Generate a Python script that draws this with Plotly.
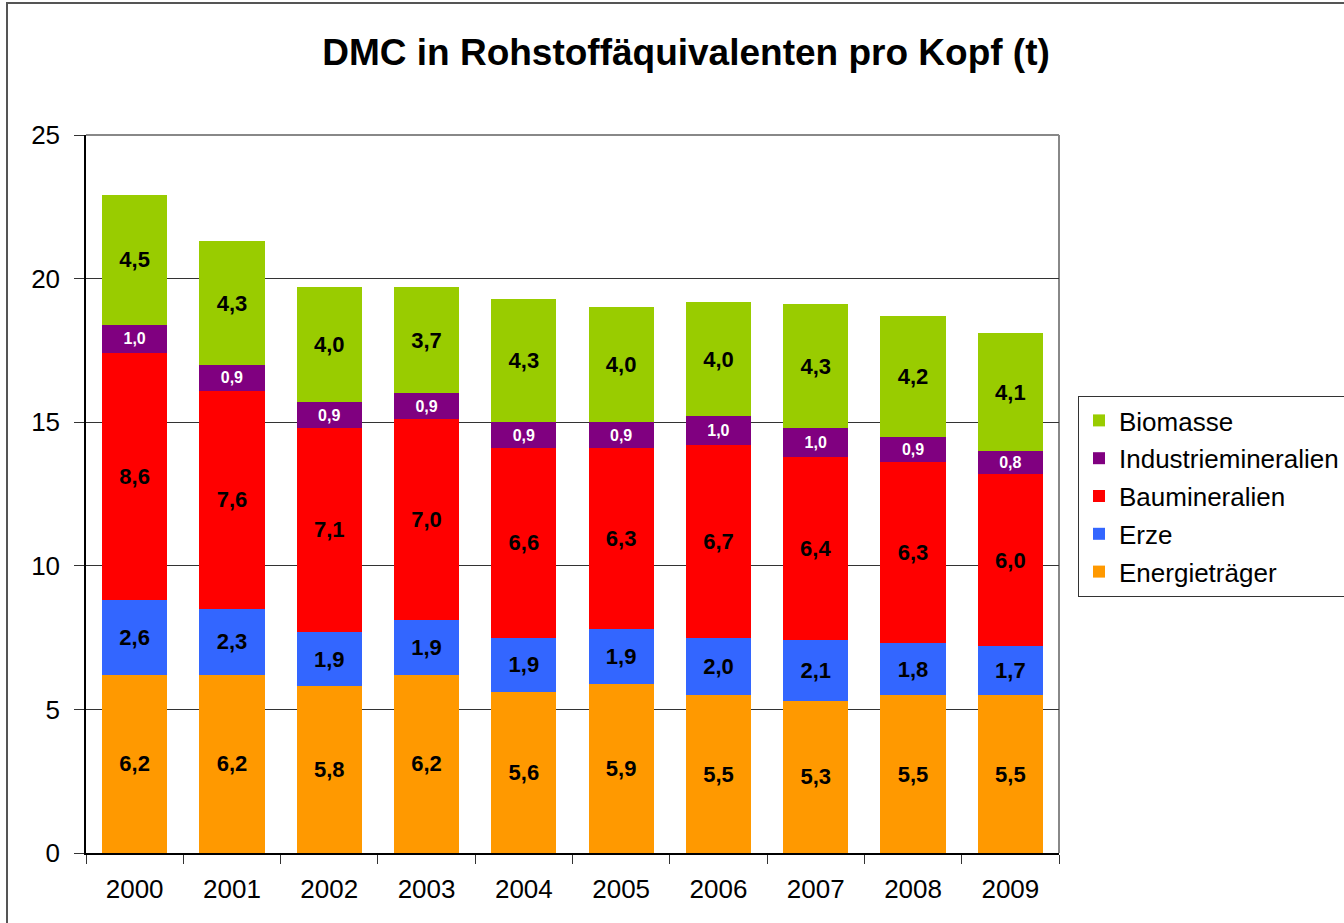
import plotly.graph_objects as go

years = ["2000", "2001", "2002", "2003", "2004", "2005", "2006", "2007", "2008", "2009"]
energietraeger = [6.2, 6.2, 5.8, 6.2, 5.6, 5.9, 5.5, 5.3, 5.5, 5.5]
erze = [2.6, 2.3, 1.9, 1.9, 1.9, 1.9, 2.0, 2.1, 1.8, 1.7]
baumineralien = [8.6, 7.6, 7.1, 7.0, 6.6, 6.3, 6.7, 6.4, 6.3, 6.0]
industriemineralien = [1.0, 0.9, 0.9, 0.9, 0.9, 0.9, 1.0, 1.0, 0.9, 0.8]
biomasse = [4.5, 4.3, 4.0, 3.7, 4.3, 4.0, 4.0, 4.3, 4.2, 4.1]
y_ticks = [0, 5, 10, 15, 20, 25]

FONT = "Liberation Sans, Arial, sans-serif"

series = [
    ("Energieträger", energietraeger, "#FF9900", "black", 22, 5),
    ("Erze", erze, "#3366FF", "black", 22, 4),
    ("Baumineralien", baumineralien, "#FF0000", "black", 22, 3),
    ("Industriemineralien", industriemineralien, "#800080", "white", 16, 2),
    ("Biomasse", biomasse, "#99CC00", "black", 22, 1),
]

fig = go.Figure()
for name, vals, color, tcol, tsize, rank in series:
    fig.add_trace(go.Bar(
        x=years, y=vals, name=name, legendgroup=name, legendrank=rank,
        marker=dict(color=color, line=dict(width=0)),
        text=[f"{v:.1f}".replace(".", ",") for v in vals],
        textposition="inside", insidetextanchor="middle", textangle=0,
        constraintext="none",
        textfont=dict(color=tcol, size=tsize, family=FONT, weight="bold"),
        hoverinfo="skip",
    ))

fig.update_layout(
    width=1344, height=923,
    margin=dict(l=86, r=285, t=135, b=70, autoexpand=False),
    barmode="stack", bargap=0.33,
    plot_bgcolor="white", paper_bgcolor="white",
    font=dict(family=FONT, color="black"),
    title=dict(text="<b>DMC in Rohstoffäquivalenten pro Kopf (t)</b>",
               font=dict(size=37, family=FONT, color="black"),
               x=686 / 1344, xref="container", xanchor="center",
               y=1 - 52 / 923, yref="container", yanchor="middle"),
    legend=dict(x=(1078 - 86) / 973, xanchor="left", y=(853 - 396) / 718, yanchor="top",
                traceorder="grouped", tracegroupgap=1,
                bordercolor="#333333", borderwidth=1, bgcolor="white",
                font=dict(size=26, family=FONT, color="black")),
    showlegend=True,
)
fig.update_xaxes(
    showline=True, linecolor="black", linewidth=1.5,
    ticks="outside", ticklen=9, tickcolor="#333333", tickson="boundaries",
    tickfont=dict(size=26, family=FONT, color="black"),
    ticklabelstandoff=12,
    showgrid=False,
)
fig.update_yaxes(
    range=[0, 25], tickvals=y_ticks,
    showline=True, linecolor="black", linewidth=1.5,
    ticks="outside", ticklen=10, tickcolor="#333333",
    tickfont=dict(size=26, family=FONT, color="black"),
    ticklabelstandoff=9,
    showgrid=True, gridcolor="#333333", gridwidth=1,
    zeroline=False,
)
# plot area frame (top and right in gray)
fig.add_shape(type="line", xref="paper", yref="paper", x0=0, x1=1, y0=1, y1=1,
              line=dict(color="#888888", width=2), layer="below")
fig.add_shape(type="line", xref="paper", yref="paper", x0=1, x1=1, y0=0, y1=1,
              line=dict(color="#888888", width=2), layer="below")
# outer chart border
fig.add_shape(type="rect", xref="paper", yref="paper",
              x0=(7 - 86) / 973, x1=1.35, y0=(853 - 925) / 718, y1=(853 - 3) / 718,
              line=dict(color="#555555", width=2), fillcolor="rgba(0,0,0,0)", layer="below")

fig.write_html("out.html", config={"displayModeBar": False},
               post_script="document.body.style.margin='0px';")
